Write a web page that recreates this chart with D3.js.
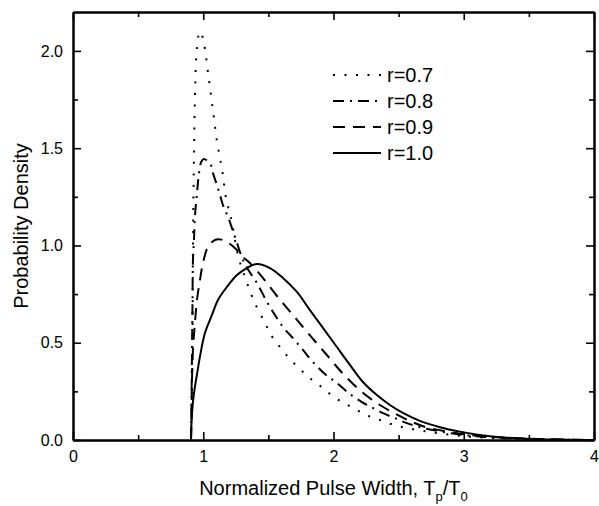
<!DOCTYPE html>
<html>
<head>
<meta charset="utf-8">
<script src="https://cdn.jsdelivr.net/npm/d3@7/dist/d3.min.js"></script>
<style>
  html, body { margin: 0; padding: 0; background: #fff; }
  svg { display: block; font-family: Arial, "Liberation Sans", sans-serif; }
</style>
</head>
<body>
<svg id="chart" width="599" height="506"></svg>
<script>
// values
const xTicks = [0, 1, 2, 3, 4];
const yTicks = [0, 0.5, 1.0, 1.5, 2.0];

const xR07 = [0.906, 0.913, 0.917, 0.921, 0.929, 0.936, 0.944, 0.952, 0.96, 0.98, 0.995, 1.013, 1.036, 1.059, 1.082, 1.105, 1.128, 1.151, 1.174, 1.197, 1.22, 1.266, 1.32, 1.389, 1.474, 1.52, 1.589, 1.658, 1.742, 1.827, 1.919, 2.003, 2.095, 2.18, 2.272, 2.356, 2.441, 2.525, 2.7, 2.9, 3.1, 3.4, 3.7, 4.0];
const yR07 = [0, 0.25, 0.5, 1.0, 1.47, 1.76, 1.94, 2.02, 2.07, 2.1, 2.07, 2.01, 1.892, 1.774, 1.656, 1.537, 1.45, 1.362, 1.244, 1.183, 1.121, 0.951, 0.838, 0.715, 0.602, 0.54, 0.478, 0.422, 0.365, 0.314, 0.267, 0.221, 0.185, 0.154, 0.123, 0.103, 0.082, 0.067, 0.045, 0.027, 0.015, 0.006, 0.002, 0];

const xR08 = [0.906, 0.909, 0.913, 0.917, 0.921, 0.929, 0.936, 0.952, 0.967, 0.985, 1.005, 1.03, 1.059, 1.074, 1.105, 1.128, 1.151, 1.19, 1.22, 1.259, 1.305, 1.35, 1.412, 1.489, 1.55, 1.612, 1.688, 1.765, 1.842, 1.934, 2.026, 2.126, 2.218, 2.302, 2.394, 2.487, 2.563, 2.7, 2.9, 3.1, 3.4, 3.7, 4.0];
const yR08 = [0, 0.154, 0.41, 0.668, 0.925, 1.03, 1.147, 1.27, 1.37, 1.43, 1.445, 1.435, 1.414, 1.373, 1.311, 1.26, 1.208, 1.147, 1.09, 1.013, 0.925, 0.87, 0.807, 0.71, 0.643, 0.581, 0.524, 0.463, 0.401, 0.339, 0.293, 0.236, 0.195, 0.165, 0.134, 0.108, 0.087, 0.06, 0.035, 0.019, 0.007, 0.002, 0];

const xR09 = [0.906, 0.91, 0.913, 0.921, 0.936, 0.952, 0.975, 0.998, 1.036, 1.09, 1.14, 1.182, 1.243, 1.305, 1.358, 1.458, 1.573, 1.688, 1.819, 1.949, 2.072, 2.218, 2.356, 2.51, 2.563, 2.7, 2.9, 3.1, 3.4, 3.7, 4.0];
const yR09 = [0, 0.118, 0.293, 0.463, 0.6, 0.72, 0.823, 0.91, 0.992, 1.028, 1.03, 1.018, 0.987, 0.941, 0.91, 0.833, 0.735, 0.643, 0.538, 0.437, 0.341, 0.247, 0.18, 0.123, 0.105, 0.068, 0.04, 0.022, 0.009, 0.003, 0];

const xR10 = [0.906, 0.909, 0.915, 0.925, 0.94, 0.955, 0.975, 1.013, 1.067, 1.113, 1.182, 1.259, 1.335, 1.412, 1.512, 1.612, 1.719, 1.819, 1.919, 2.026, 2.126, 2.226, 2.333, 2.433, 2.533, 2.663, 2.817, 2.97, 3.12, 3.28, 3.53, 3.8, 4.0];
const yR10 = [0, 0.08, 0.15, 0.22, 0.29, 0.35, 0.43, 0.55, 0.643, 0.72, 0.787, 0.848, 0.884, 0.905, 0.884, 0.833, 0.761, 0.668, 0.576, 0.478, 0.386, 0.298, 0.231, 0.18, 0.139, 0.098, 0.066, 0.043, 0.026, 0.014, 0.005, 0.001, 0];

const seriesLabels = ['r=0.7', 'r=0.8', 'r=0.9', 'r=1.0'];
const seriesDash = ['2,9.5', '11,6,2,6', '12,8', null];

const series = [
  { label: seriesLabels[0], dash: seriesDash[0], xs: xR07, ys: yR07 },
  { label: seriesLabels[1], dash: seriesDash[1], xs: xR08, ys: yR08 },
  { label: seriesLabels[2], dash: seriesDash[2], xs: xR09, ys: yR09 },
  { label: seriesLabels[3], dash: seriesDash[3], xs: xR10, ys: yR10 }
];

const svg = d3.select('#chart');
const margin = { left: 73, right: 5, top: 12, bottom: 66 };
const width = 599, height = 506;
const plotW = width - margin.left - margin.right;
const plotH = height - margin.top - margin.bottom;

const x = d3.scaleLinear().domain([0, 4]).range([margin.left, margin.left + plotW]);
const y = d3.scaleLinear().domain([0, 2.2]).range([margin.top + plotH, margin.top]);

const xMinor = d3.range(0.5, 4, 1);
const yMinor = d3.range(0.25, 2.2, 0.5);

// major and minor ticks, all pointing inward, mirrored on top and right
const axisBottomG = svg.append('g').attr('transform', `translate(0,${y(0)})`);
axisBottomG.call(d3.axisBottom(x).tickValues(xTicks).tickFormat(d3.format('d')).tickSizeInner(-8).tickSizeOuter(0).tickPadding(11));
axisBottomG.append('g').call(d3.axisBottom(x).tickValues(xMinor).tickFormat('').tickSizeInner(-5).tickSizeOuter(0));

const axisTopG = svg.append('g').attr('transform', `translate(0,${margin.top})`);
axisTopG.call(d3.axisTop(x).tickValues(xTicks).tickFormat('').tickSizeInner(-8).tickSizeOuter(0));
axisTopG.append('g').call(d3.axisTop(x).tickValues(xMinor).tickFormat('').tickSizeInner(-5).tickSizeOuter(0));

const axisLeftG = svg.append('g').attr('transform', `translate(${margin.left},0)`);
axisLeftG.call(d3.axisLeft(y).tickValues(yTicks).tickFormat(d3.format('.1f')).tickSizeInner(-8).tickSizeOuter(0).tickPadding(10));
axisLeftG.append('g').call(d3.axisLeft(y).tickValues(yMinor).tickFormat('').tickSizeInner(-5).tickSizeOuter(0));

const axisRightG = svg.append('g').attr('transform', `translate(${margin.left + plotW},0)`);
axisRightG.call(d3.axisRight(y).tickValues(yTicks).tickFormat('').tickSizeInner(-8).tickSizeOuter(0));
axisRightG.append('g').call(d3.axisRight(y).tickValues(yMinor).tickFormat('').tickSizeInner(-5).tickSizeOuter(0));

svg.selectAll('.domain').attr('stroke', '#000').attr('stroke-width', 2);
svg.selectAll('.tick line').attr('stroke', '#000').attr('stroke-width', 1.6);
svg.selectAll('.tick text').attr('font-size', 16).attr('font-family', 'Arial, "Liberation Sans", sans-serif').attr('fill', '#000');

const line = d3.line()
  .x(d => x(d[0]))
  .y(d => y(d[1]))
  .curve(d3.curveCatmullRom.alpha(0.5));

svg.append('g')
  .selectAll('path.curve')
  .data(series)
  .join('path')
  .attr('class', 'curve')
  .attr('d', s => line(s.xs.map((v, i) => [v, s.ys[i]])))
  .attr('fill', 'none')
  .attr('stroke', '#000')
  .attr('stroke-width', 2)
  .attr('stroke-dasharray', s => s.dash);

// legend
const legendY = [75, 101, 127, 153];
const legend = svg.append('g');
series.forEach((s, i) => {
  legend.append('line')
    .attr('x1', 333).attr('x2', 381)
    .attr('y1', legendY[i]).attr('y2', legendY[i])
    .attr('stroke', '#000').attr('stroke-width', 2)
    .attr('stroke-dasharray', s.dash);
  legend.append('text')
    .attr('x', 387).attr('y', legendY[i] + 7)
    .attr('font-size', 20)
    .text(s.label);
});

// axis titles
const xTitle = svg.append('text')
  .attr('x', margin.left + plotW / 2)
  .attr('y', 495)
  .attr('text-anchor', 'middle')
  .attr('font-size', 20);
xTitle.append('tspan').text('Normalized Pulse Width, T');
xTitle.append('tspan').attr('font-size', 13).attr('dy', 6).text('p');
xTitle.append('tspan').attr('dy', -6).text('/T');
xTitle.append('tspan').attr('font-size', 13).attr('dy', 6).text('0');

svg.append('text')
  .attr('transform', `translate(28,${margin.top + plotH / 2}) rotate(-90)`)
  .attr('text-anchor', 'middle')
  .attr('font-size', 20)
  .text('Probability Density');
</script>
</body>
</html>
